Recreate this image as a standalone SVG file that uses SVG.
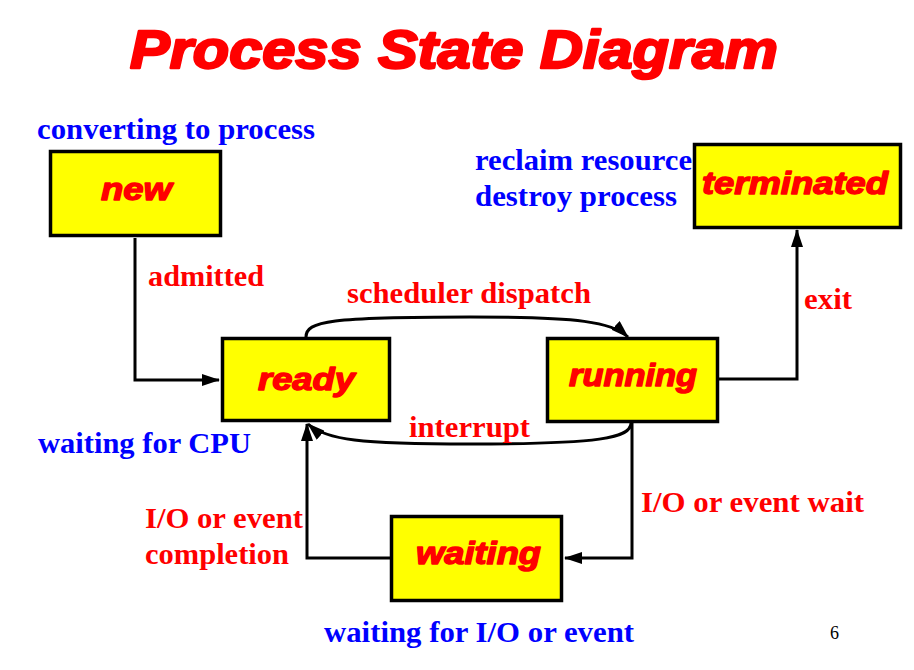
<svg xmlns="http://www.w3.org/2000/svg" width="914" height="670" viewBox="0 0 914 670">
<style>
.node rect{fill:#FFFF00;stroke:#000;stroke-width:3.5}
.nl{font-family:"Liberation Sans",Arial,sans-serif;font-weight:bold;font-style:italic;font-size:31px;fill:#FF0000;stroke:#FF0000;stroke-width:1.4;stroke-linejoin:round}
.red{font-family:"Liberation Serif","Times New Roman",serif;font-weight:bold;font-size:30px;fill:#FF0000}
.blue{font-family:"Liberation Serif","Times New Roman",serif;font-weight:bold;font-size:30px;fill:#0000FF}
.edges path{fill:none;stroke:#000;stroke-width:3;marker-end:url(#arr)}
</style>
<defs>
<marker id="arr" viewBox="0 0 18 12" refX="17" refY="6" markerWidth="18" markerHeight="12" markerUnits="userSpaceOnUse" orient="auto">
<path d="M0,0 L18,6 L0,12 z" fill="#000"/>
</marker>
</defs>
<rect width="914" height="670" fill="#fff"/>
<text x="130" y="68" font-family="'Liberation Sans',Arial,sans-serif" font-weight="bold" font-style="italic" font-size="53" fill="#FF0000" stroke="#FF0000" stroke-width="2.4" stroke-linejoin="round" textLength="648" lengthAdjust="spacingAndGlyphs">Process State Diagram</text>

<g class="edges">
<path d="M135 238 V380 H219"/>
<path d="M306 337 C306 321 330 317 470 317 C580 317 612 322 628 337"/>
<path d="M631 423 C631 438 600 444 470 444 C360 444 326 440 308 424"/>
<path d="M719 379 H797 V230"/>
<path d="M632 423 V558 H565"/>
<path d="M390 558 H307 V424"/>
</g>

<g id="node-new" class="node">
<rect x="50.5" y="151.5" width="170" height="84"/>
<text class="nl" x="101" y="200" textLength="71" lengthAdjust="spacingAndGlyphs">new</text>
</g>
<g id="node-ready" class="node">
<rect x="222.5" y="338.5" width="167" height="82"/>
<text class="nl" x="258" y="390" textLength="97" lengthAdjust="spacingAndGlyphs">ready</text>
</g>
<g id="node-running" class="node">
<rect x="547.5" y="338.5" width="170" height="83"/>
<text class="nl" x="569" y="386" textLength="128" lengthAdjust="spacingAndGlyphs">running</text>
</g>
<g id="node-terminated" class="node">
<rect x="694.5" y="144.5" width="206" height="83"/>
<text class="nl" x="702" y="194" textLength="186" lengthAdjust="spacingAndGlyphs">terminated</text>
</g>
<g id="node-waiting" class="node">
<rect x="391.5" y="516.5" width="170" height="84"/>
<text class="nl" x="416" y="564" textLength="125" lengthAdjust="spacingAndGlyphs">waiting</text>
</g>

<g id="labels">
<text class="blue" x="37" y="139" textLength="278" lengthAdjust="spacingAndGlyphs">converting to process</text>
<text class="red" x="148" y="286" textLength="116" lengthAdjust="spacingAndGlyphs">admitted</text>
<text class="red" x="347" y="303" textLength="244" lengthAdjust="spacingAndGlyphs">scheduler dispatch</text>
<text class="red" x="409" y="437" textLength="121" lengthAdjust="spacingAndGlyphs">interrupt</text>
<text class="blue" x="38" y="453" textLength="213" lengthAdjust="spacingAndGlyphs">waiting for CPU</text>
<text class="blue" x="475" y="170" textLength="217" lengthAdjust="spacingAndGlyphs">reclaim resource</text>
<text class="blue" x="475" y="206" textLength="202" lengthAdjust="spacingAndGlyphs">destroy process</text>
<text class="red" x="804" y="309" textLength="48" lengthAdjust="spacingAndGlyphs">exit</text>
<text class="red" x="641" y="512" textLength="223" lengthAdjust="spacingAndGlyphs">I/O or event wait</text>
<text class="red" x="145" y="528" textLength="158" lengthAdjust="spacingAndGlyphs">I/O or event</text>
<text class="red" x="145" y="564" textLength="144" lengthAdjust="spacingAndGlyphs">completion</text>
<text class="blue" x="324" y="642" textLength="310" lengthAdjust="spacingAndGlyphs">waiting for I/O or event</text>
<text x="830" y="639" font-family="'Liberation Serif','Times New Roman',serif" font-size="18" fill="#000">6</text>
</g>
</svg>
